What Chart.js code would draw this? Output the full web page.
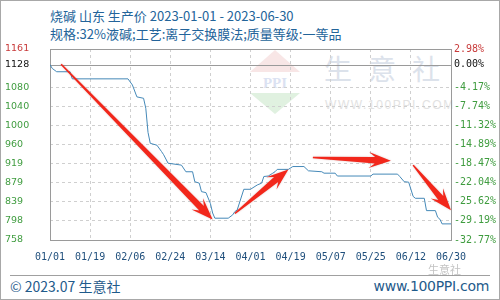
<!DOCTYPE html>
<html>
<head>
<meta charset="utf-8">
<script src="https://cdn.jsdelivr.net/npm/chart.js@4/dist/chart.umd.min.js"></script>
<style>
  html, body { margin:0; padding:0; background:#fff; }
  #wrap { position:relative; width:500px; height:300px; overflow:hidden; background:#fff; }
  #c { position:absolute; left:0; top:0; z-index:2; }
  .t { position:absolute; white-space:nowrap; font-family:"Noto Sans CJK SC","Noto Sans",sans-serif; }
  #title { left:50px; top:7px; font-size:13px; line-height:18px; color:#23649a; }
  #sub { left:50px; top:25px; font-size:13px; line-height:18px; color:#23649a; }
  #wm1 { left:324px; top:53px; font-size:28px; line-height:30px; letter-spacing:16px; color:#dce2eb; z-index:1; }
  #wm2 { left:325px; top:98px; font-size:12px; line-height:14px; letter-spacing:1.6px; color:#e2e2e2; font-family:"Liberation Sans",sans-serif; z-index:1; }
  #logo { position:absolute; left:250px; top:50px; z-index:1; }
  #foot { left:10px; top:276px; font-size:14px; line-height:20px; color:#1f5b8b; }
  #site { right:11px; top:276px; font-size:14px; line-height:20px; color:#1f5b8b; font-family:"DejaVu Sans","Noto Sans",sans-serif; letter-spacing:-0.3px; }
  #wx { left:428px; top:262px; font-size:11px; line-height:14px; color:rgba(120,120,120,0.45); z-index:3; }
  #sep { position:absolute; left:10px; top:275px; width:480px; height:1px; background:#a0a0a0; }
  #frame { position:absolute; left:0; top:0; width:500px; height:300px; box-sizing:border-box; border:1px solid #a8a8a8; z-index:4; pointer-events:none; }
</style>
</head>
<body>
<div id="wrap">
  <div class="t" id="title">烧碱 山东 生产价 2023-01-01 - 2023-06-30</div>
  <div class="t" id="sub">规格:32%液碱;工艺:离子交换膜法;质量等级:一等品</div>
  <svg id="logo" width="50" height="64" viewBox="0 0 50 64">
    <polygon points="25,0 50,22 0,22" fill="#f8e6e6"/>
    <text x="25" y="38" text-anchor="middle" font-family="Liberation Serif,serif" font-weight="bold" font-size="15" fill="#dbe2f2">PPI</text>
    <polygon points="0,43 50,43 25,64" fill="#e0f1e0"/>
  </svg>
  <div class="t" id="wm1">生意社</div>
  <div class="t" id="wm2">WWW.100PPI.COM</div>
  <canvas id="c" width="500" height="300"></canvas>
  <div id="sep"></div>
  <div class="t" id="foot">© 2023.07 生意社</div>
  <div class="t" id="site">www.100PPI.com</div>
  <div class="t" id="wx">生意社</div>
  <div id="frame"></div>
</div>
<script>
// ---- data ----
const dates = ['01/01','01/02','01/04','01/10','01/11','02/05','02/07','02/09','02/12','02/13',
  '02/14','02/15','02/18','02/20','02/21','02/23','03/01','03/03','03/06','03/07',
  '03/09','03/10','03/12','03/14','03/15','03/16','03/22','03/24','03/25','03/26',
  '03/29','04/01','04/04','04/06','04/07','04/09','04/11','04/12','04/13','04/18',
  '04/20','04/25','04/27','05/03','05/04','05/09','05/10','05/25','05/26','06/06',
  '06/07','06/09','06/11','06/13','06/14','06/18','06/19','06/23','06/24','06/25',
  '06/26','06/30'];
const prices = [1128,1120,1113,1113,1098,1098,1085,1060,1057,1036,
  985,962,958,945,938,920,916,902,902,881,
  878,860,858,835,815,804,804,811,818,821,
  865,865,874,878,892,893,899,902,907,907,
  913,913,904,902,899,899,893,893,897,897,
  892,881,880,850,846,846,820,820,806,802,
  792,792];
const xTickDates = ['01/01','01/19','02/06','02/24','03/14','04/01','04/19','05/07','05/25','06/12','06/30'];
const yTickValues = [758,798.3,838.6,878.9,919.2,959.5,999.8,1040.1,1080.4,1128,1161];
const leftTickLabels = ['758','798','839','879','919','960','1000','1040','1080','1128','1161'];
const rightTickLabels = ['-32.77%','-29.19%','-25.62%','-22.04%','-18.47%','-14.89%','-11.32%','-7.74%','-4.17%','0.00%','2.98%'];
const yMin = 758, yMax = 1161;
// annotation arrows: [fromDate, fromValue, toDate, toValue]
const arrows = [
  ['01/06',1129,'03/15',801],
  ['03/25',814,'04/18',907],
  ['04/29',932,'06/03',925],
  ['06/13',916,'06/30',821]
];

// ---- helpers ----
function dayOf(md) {
  const [m, d] = md.split('/').map(Number);
  return Math.round((Date.UTC(2023, m - 1, d) - Date.UTC(2023, 0, 1)) / 86400000);
}
const points = dates.map((d, i) => ({ x: dayOf(d), y: prices[i] }));
const xTickDays = xTickDates.map(dayOf);

const RED = '#c83a3a', GREEN = '#3f9c3f', BLACK = '#111';
function tickColor(ctx) {
  const v = ctx.tick ? ctx.tick.value : null;
  if (v === yMax) return RED;
  if (v === prices[0]) return BLACK;
  return GREEN;
}

const framePlugin = {
  id: 'frame',
  beforeDatasetsDraw(chart) {
    const { ctx, chartArea: a, scales } = chart;
    ctx.save();
    ctx.strokeStyle = '#9a9a9a';
    ctx.lineWidth = 1;
    ctx.strokeRect(Math.round(a.left) + 0.5, Math.round(a.top) + 0.5, Math.round(a.right - a.left), Math.round(a.bottom - a.top));
    const y0 = Math.round(scales.y.getPixelForValue(prices[0])) + 0.5;
    ctx.beginPath(); ctx.moveTo(a.left, y0); ctx.lineTo(a.right, y0); ctx.stroke();
    ctx.restore();
  }
};

const arrowPlugin = {
  id: 'arrows',
  afterDatasetsDraw(chart) {
    const { ctx, scales } = chart;
    ctx.save();
    ctx.fillStyle = '#f2271b';
    ctx.shadowColor = 'rgba(120,0,0,0.25)';
    ctx.shadowBlur = 2;
    arrows.forEach(([d1, v1, d2, v2]) => {
      const x1 = scales.x.getPixelForValue(dayOf(d1)), y1 = scales.y.getPixelForValue(v1);
      const x2 = scales.x.getPixelForValue(dayOf(d2)), y2 = scales.y.getPixelForValue(v2);
      const dx = x2 - x1, dy = y2 - y1, L = Math.hypot(dx, dy);
      const ux = dx / L, uy = dy / L, nx = -uy, ny = ux;
      const hl = 22, hw = 16, sw = 6.5, tw = 1.5;
      const P = (a, b) => [x1 + ux * a + nx * b, y1 + uy * a + ny * b];
      const pts = [P(L, 0), P(L - hl, hw / 2), P(L - hl * 0.72, sw / 2), P(0, tw / 2),
                   P(0, -tw / 2), P(L - hl * 0.72, -sw / 2), P(L - hl, -hw / 2)];
      ctx.beginPath();
      pts.forEach((p, i) => i ? ctx.lineTo(p[0], p[1]) : ctx.moveTo(p[0], p[1]));
      ctx.closePath();
      ctx.fill();
    });
    ctx.restore();
  }
};

new Chart(document.getElementById('c'), {
  type: 'line',
  data: {
    datasets: [{
      data: points,
      borderColor: '#4589b8',
      borderWidth: 1,
      pointRadius: 0,
      tension: 0,
      fill: false
    }]
  },
  options: {
    responsive: false,
    animation: false,
    layout: { padding: { left: 5, right: 0, top: 49, bottom: 0 } },
    plugins: { legend: { display: false }, tooltip: { enabled: false }, title: { display: false } },
    scales: {
      x: {
        type: 'linear', min: 0, max: 180,
        afterBuildTicks: axis => { axis.ticks = xTickDays.map(v => ({ value: v })); },
        afterFit: s => { s.height = 60; },
        ticks: {
          autoSkip: false, maxRotation: 0, padding: 11,
          color: '#1f4f7c',
          font: { family: 'DejaVu Sans Mono', size: 10 },
          callback: (v, i) => xTickDates[i]
        },
        grid: { color: '#cfcfcf', drawTicks: false, lineWidth: 1 },
        border: { display: false, dash: [3, 3] }
      },
      y: {
        position: 'left', min: yMin, max: yMax,
        afterBuildTicks: axis => { axis.ticks = yTickValues.map(v => ({ value: v })); },
        afterFit: s => { s.width = 45; },
        ticks: {
          autoSkip: false, padding: 4, crossAlign: 'far',
          color: tickColor,
          font: { family: 'DejaVu Sans', size: 9.5 },
          callback: (v, i) => leftTickLabels[i]
        },
        grid: {
          drawTicks: false, lineWidth: 1,
          color: ctx => (ctx.tick && (ctx.tick.value === prices[0] || ctx.tick.value === yMax || ctx.tick.value === yMin)) ? 'rgba(0,0,0,0)' : '#cfcfcf'
        },
        border: { display: false, dash: [3, 3] }
      },
      y2: {
        position: 'right', min: yMin, max: yMax,
        afterBuildTicks: axis => { axis.ticks = yTickValues.map(v => ({ value: v })); },
        afterFit: s => { s.width = 49; },
        ticks: {
          autoSkip: false, padding: 3,
          color: tickColor,
          font: { family: 'DejaVu Sans Mono', size: 10 },
          callback: (v, i) => rightTickLabels[i]
        },
        grid: { display: false, drawTicks: false },
        border: { display: false }
      }
    }
  },
  plugins: [framePlugin, arrowPlugin]
});
</script>
</body>
</html>
